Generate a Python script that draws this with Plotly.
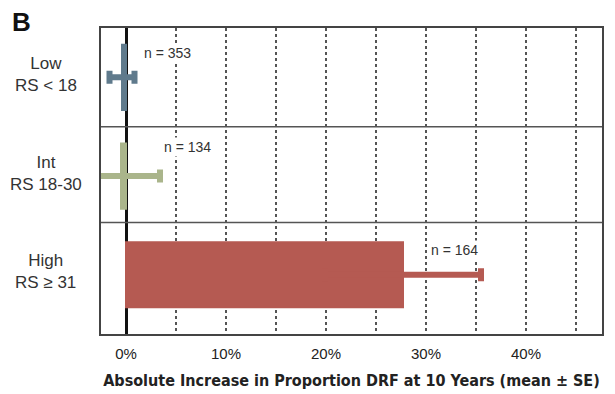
import plotly.graph_objects as go

# Data
groups = ["Low", "Int", "High"]
group_labels = ["Low<br>RS < 18", "Int<br>RS 18-30", "High<br>RS \u2265 31"]
means = [-0.4, -0.5, 27.7]
se = [1.25, 3.9, 7.8]
n_labels = ["n = 353", "n = 134", "n = 164"]
colors = ["#5f7a8c", "#aab58b", "#b55a52"]
tick_vals = [0, 10, 20, 30, 40]
tick_text = ["0%", "10%", "20%", "30%", "40%"]

# label placement (layout, not data)
n_label_x = [1.6, 3.6, 30.3]
n_label_dy = [-0.25, -0.29, -0.25]

fig = go.Figure()
for i, g in enumerate(groups):
    fig.add_trace(go.Bar(
        x=[means[i]], y=[i], orientation="h", width=0.66,
        marker=dict(color=colors[i], line=dict(color=colors[i], width=2)),
        error_x=dict(type="data", array=[se[i]], color=colors[i],
                     thickness=6, width=6.5),
        showlegend=False, hoverinfo="skip",
    ))

annotations = []
for i, g in enumerate(groups):
    annotations.append(dict(
        x=n_label_x[i], y=i + n_label_dy[i], xref="x", yref="y",
        text=n_labels[i], showarrow=False, xanchor="left", yanchor="middle",
        bgcolor="white", borderpad=1,
        font=dict(size=14, color="#333333", family="Liberation Sans, Arial, sans-serif"),
    ))
    annotations.append(dict(
        x=-0.11, y=i - 0.03, xref="paper", yref="y", text=group_labels[i],
        showarrow=False, xanchor="center", yanchor="middle", align="center",
        font=dict(size=17, color="#333333", family="Liberation Sans, Arial, sans-serif"),
    ))
annotations.append(dict(
    x=-0.182, y=1.018, xref="paper", yref="paper", text="<b>B</b>",
    showarrow=False, xanchor="left", yanchor="middle",
    font=dict(size=26, color="#111111", family="Liberation Sans, Arial, sans-serif"),
))

shapes = []
for yv in [0.5, 1.47]:
    shapes.append(dict(type="line", xref="paper", x0=0, x1=1, yref="y", y0=yv, y1=yv,
                       line=dict(color="#555555", width=1.5), layer="above"))

fig.update_layout(
    width=615, height=394,
    margin=dict(l=101, r=13, t=28, b=60),
    paper_bgcolor="white", plot_bgcolor="white",
    barmode="overlay",
    annotations=annotations, shapes=shapes,
    xaxis=dict(
        range=[-2.5, 47.6], tickvals=tick_vals, ticktext=tick_text,
        automargin=False,
        showgrid=True, gridcolor="#555555", griddash="dot", gridwidth=1.5,
        minor=dict(tickvals=[5, 15, 25, 35, 45], showgrid=True, gridcolor="#555555",
                   griddash="dot", gridwidth=1.5),
        zeroline=True, zerolinecolor="#111111", zerolinewidth=3,
        showline=True, mirror=True, linecolor="#444444", linewidth=1.5,
        ticks="outside", ticklen=5, tickcolor="rgba(0,0,0,0)",
        tickfont=dict(size=15, color="#222222", family="Liberation Sans, Arial, sans-serif"),
        title=dict(text="<b>Absolute Increase in Proportion DRF at 10 Years (mean \u00b1 SE)</b>",
                   font=dict(size=16, color="#222222",
                             family="Liberation Sans Narrow, Arial Narrow, DejaVu Sans Condensed, sans-serif"),
                   standoff=14),
    ),
    yaxis=dict(
        range=[2.6, -0.5], showticklabels=False, showgrid=False, zeroline=False,
        automargin=False,
        showline=True, mirror=True, linecolor="#444444", linewidth=1.5,
    ),
)

fig.write_html("out.html", config={"displayModeBar": False},
               post_script="document.body.style.margin='0';")
